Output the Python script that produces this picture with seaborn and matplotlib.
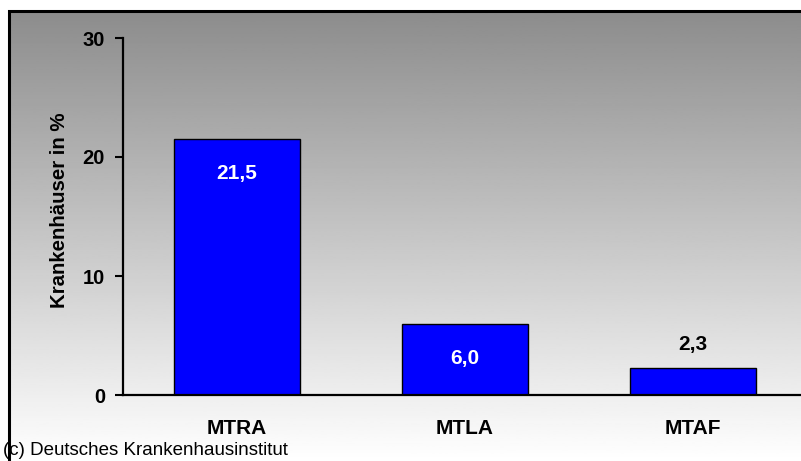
import numpy as np
import pandas as pd
import matplotlib
matplotlib.use("Agg")
import matplotlib.pyplot as plt
import seaborn as sns

categories = ["MTRA", "MTLA", "MTAF"]
values = [21.5, 6.0, 2.3]
value_labels = ["21,5", "6,0", "2,3"]
y_ticks = [0, 10, 20, 30]
y_label = "Krankenhäuser in %"
source_note = "(c) Deutsches Krankenhausinstitut"

sns.set_theme(style="white")
plt.rcParams["font.family"] = ["Liberation Sans", "DejaVu Sans"]
plt.rcParams.update({"text.color": "black", "axes.labelcolor": "black",
                     "xtick.color": "black", "ytick.color": "black"})

W, H = 801, 461
fig = plt.figure(figsize=(W / 100, H / 100), dpi=100)
fig.patch.set_facecolor("white")

# gray-to-white gradient background inside the chart frame
bx0, by_top = 9, 11
bg = fig.add_axes([bx0 / W, 0, 1 - bx0 / W, (H - by_top) / H], zorder=0)
grad = np.linspace(0x8c / 255, 1.0, 256).reshape(-1, 1)
bg.imshow(grad, cmap="gray", vmin=0, vmax=1, aspect="auto", extent=[0, 1, 0, 1], origin="upper")
bg.set_xlim(0, 1)
bg.set_ylim(0, 1)
bg.axis("off")
fig.add_artist(plt.Rectangle((bx0 / W, -0.05), 1.2, (H - by_top) / H + 0.05,
                             transform=fig.transFigure, fill=False,
                             edgecolor="black", linewidth=2.2, zorder=1))

# main plot area
x_left, x_right = 123, 807
y_bottom, y_top = 395, 38
ax = fig.add_axes([x_left / W, 1 - y_bottom / H, (x_right - x_left) / W, (y_bottom - y_top) / H], zorder=2)
ax.patch.set_alpha(0)

df = pd.DataFrame({"cat": categories, "val": values})
sns.barplot(data=df, x="cat", y="val", color="#0000ff", saturation=1, width=0.557,
            edgecolor="black", linewidth=1.0, ax=ax)

ax.set_xlim(-0.5, 2.5)
ax.set_ylim(0, 30)
ax.set_yticks(y_ticks)
ax.set_yticklabels([str(t) for t in y_ticks], fontsize=14.5, fontweight="bold")
ax.set_xticks(range(len(categories)))
ax.set_xticklabels(categories, fontsize=15, fontweight="bold")
ax.set_xticks([-0.5, 0.5, 1.5, 2.5], minor=True)
ax.tick_params(axis="x", which="major", length=0, pad=17)
ax.tick_params(axis="x", which="minor", length=5, width=1.5, direction="out", color="black")
ax.tick_params(axis="y", length=6, width=1.5, direction="out", color="black", pad=7, left=True)
ax.set_xlabel("")
ax.set_ylabel(y_label, fontsize=14.7, fontweight="bold")
ax.yaxis.set_label_coords(-0.0785, 0.518)

for side in ["top", "right"]:
    ax.spines[side].set_visible(False)
for side in ["left", "bottom"]:
    ax.spines[side].set_visible(True)
    ax.spines[side].set_color("black")
    ax.spines[side].set_linewidth(1.6)

for i, (v, lab) in enumerate(zip(values, value_labels)):
    if v > 5:
        ax.annotate(lab, (i, v), xytext=(0, -25), textcoords="offset points",
                    ha="center", va="center", color="white", fontsize=15, fontweight="bold")
    else:
        ax.annotate(lab, (i, v), xytext=(0, 17), textcoords="offset points",
                    ha="center", va="center", color="black", fontsize=15, fontweight="bold")

fig.text(3 / W, 1 - 450 / H, source_note, fontsize=13.5, ha="left", va="center", color="black", zorder=5)

fig.savefig("out.png", dpi=100)
